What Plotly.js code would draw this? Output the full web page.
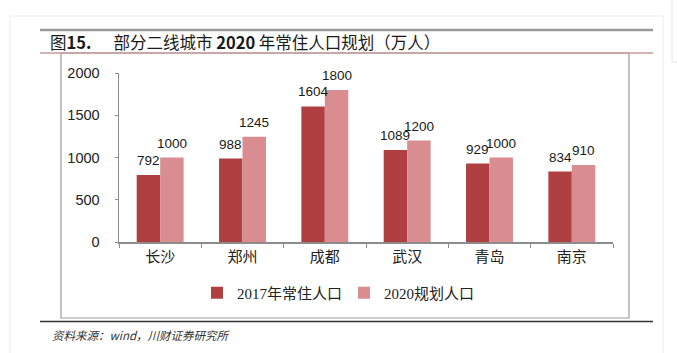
<!DOCTYPE html>
<html>
<head>
<meta charset="utf-8">
<script src="https://cdn.plot.ly/plotly-3.0.1.min.js"></script>
<style>html,body{margin:0;padding:0;background:#fff;}#chart{width:677px;height:353px;}</style>
</head>
<body>
<div id="chart"></div>
<script>
const categories = ["长沙", "郑州", "成都", "武汉", "青岛", "南京"];
const pop2017 = [792, 988, 1604, 1089, 929, 834];
const plan2020 = [1000, 1245, 1800, 1200, 1000, 910];
const seriesNames = ["2017年常住人口", "2020规划人口"];
const yTicks = [0, 500, 1000, 1500, 2000];

const W = 677, H = 353;
const L = 119, R = 613, T = 73, B = 242;
const px = x => (x - L) / (R - L);
const py = y => (B - y) / (B - T);

const numFont = "Liberation Sans, Arial, sans-serif";
const cjkFont = "Liberation Serif, Noto Sans CJK SC, serif";
const BARGAP = 0.43;
const barOffset = (R - L) / categories.length * (1 - BARGAP) / 4;

const traces = [
  {type: "bar", name: seriesNames[0], x: categories, y: pop2017,
   marker: {color: "#B03F42"}, hoverinfo: "none"},
  {type: "bar", name: seriesNames[1], x: categories, y: plan2020,
   marker: {color: "#D98D90"}, hoverinfo: "none"}
];

const valueLabels = [];
[pop2017, plan2020].forEach((vals, s) => {
  vals.forEach((v, i) => {
    valueLabels.push({
      text: String(v), x: categories[i], y: v, xref: "x", yref: "y",
      xshift: (s === 0 ? -1 : 1) * barOffset, yshift: 5,
      xanchor: "center", yanchor: "bottom", showarrow: false,
      font: {family: numFont, size: 13.5, color: "#1a1a1a"}
    });
  });
});

const line = (x0, y0, x1, y1, color, width) => ({
  type: "line", xref: "paper", yref: "paper",
  x0: px(x0), y0: py(y0), x1: px(x1), y1: py(y1),
  line: {color: color, width: width}, layer: "below"
});

const layout = {
  width: W, height: H,
  margin: {l: L, r: W - R, t: T, b: H - B, pad: 0},
  paper_bgcolor: "#fff", plot_bgcolor: "rgba(0,0,0,0)",
  showlegend: true,
  barmode: "group", bargap: BARGAP, bargroupgap: 0,
  title: {
    text: "图<b>15.</b>\u00a0\u00a0\u00a0\u00a0\u00a0 部分二线城市 <b>2020</b> 年常住人口规划（万人）",
    xref: "container", yref: "container",
    x: 50 / W, xanchor: "left", y: 1 - 43 / H, yanchor: "middle",
    font: {family: "Noto Sans CJK SC, sans-serif", size: 16.5, color: "#1a1a1a"}
  },
  xaxis: {
    type: "category", showgrid: false, zeroline: false,
    showline: true, linecolor: "#8c8c8c", linewidth: 1.5,
    ticks: "outside", tickson: "boundaries", ticklen: 4, tickcolor: "#8c8c8c",
    tickfont: {family: cjkFont, size: 15, color: "#222"},
    fixedrange: true
  },
  yaxis: {
    range: [0, 2000], tickvals: yTicks, ticktext: yTicks.map(String),
    showgrid: false, zeroline: false,
    showline: true, linecolor: "#8c8c8c", linewidth: 1.5,
    ticks: "outside", ticklen: 3, tickcolor: "#8c8c8c",
    ticklabelstandoff: 12,
    tickfont: {family: numFont, size: 14.5, color: "#222"},
    fixedrange: true
  },
  legend: {
    orientation: "h", xref: "paper", yref: "paper",
    x: px(197), xanchor: "left", y: py(293), yanchor: "middle",
    font: {family: cjkFont, size: 15, color: "#222"},
    entrywidth: 102, entrywidthmode: "pixels",
    itemwidth: 30, bgcolor: "rgba(0,0,0,0)", traceorder: "normal"
  },
  shapes: [
    {type: "rect", xref: "paper", yref: "paper", x0: px(10), y0: py(16), x1: px(663), y1: py(360),
     line: {color: "#ececec", width: 1}, layer: "below"},
    line(672, 0, 672, 62, "#e4e4e4", 1),
    line(672, 62, 677, 62, "#e4e4e4", 1),
    line(40, 30, 653, 30, "#9a9a9a", 2.5),
    {type: "rect", xref: "paper", yref: "paper", x0: px(61), y0: py(53), x1: px(629), y1: py(318),
     line: {color: "#9a9a9a", width: 1.2}, layer: "below"},
    line(40, 53, 653, 53, "#c89a9c", 1.5),
    line(40, 321.5, 653, 321.5, "#333", 1.5)
  ],
  annotations: valueLabels.concat([
    {text: "<i>资料来源：wind，川财证券研究所</i>", xref: "paper", yref: "paper",
     x: px(50), y: py(335), xanchor: "left", yanchor: "middle", showarrow: false,
     font: {family: "Noto Sans CJK SC, sans-serif", size: 11.5, color: "#333"}}
  ])
};

Plotly.newPlot("chart", traces, layout, {displayModeBar: false, staticPlot: true});
</script>
</body>
</html>
